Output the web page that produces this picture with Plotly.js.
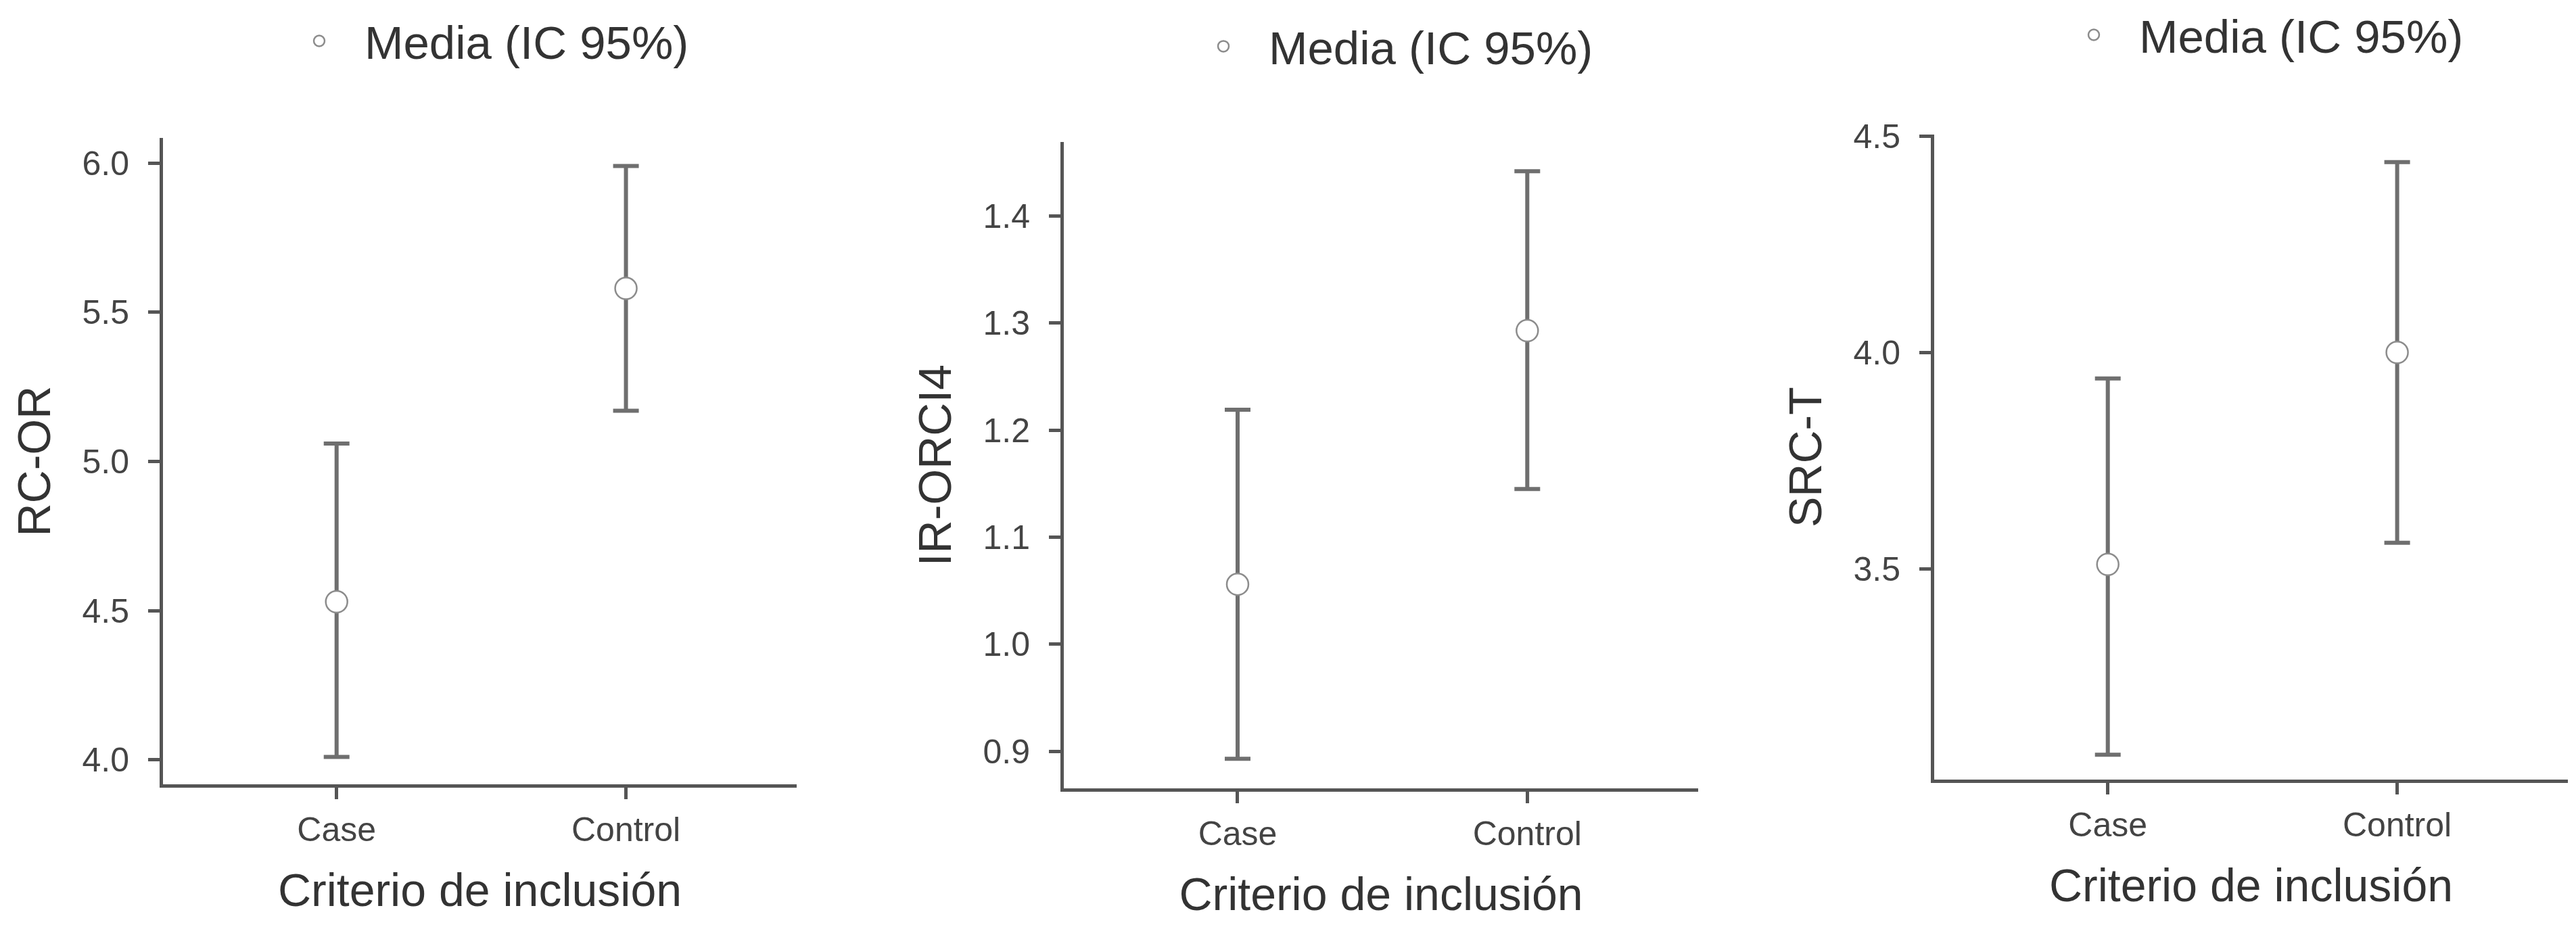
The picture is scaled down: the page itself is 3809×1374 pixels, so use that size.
<!DOCTYPE html>
<html>
<head>
<meta charset="utf-8">
<script src="https://cdn.plot.ly/plotly-3.0.1.min.js"></script>
<style>
  html, body { margin: 0; padding: 0; background: #fff; }
  #chart { width: 3809px; height: 1374px; }
</style>
</head>
<body>
<div id="chart"></div>
<script>
const groups = ['Case', 'Control'];

// RC-OR
const rcorMean = [4.53, 5.58];
const rcorLow = [4.01, 5.17];
const rcorHigh = [5.06, 5.99];

// IR-ORCI4
const irMean = [1.056, 1.293];
const irLow = [0.893, 1.145];
const irHigh = [1.219, 1.442];

// SRC-T
const srcMean = [3.51, 4.00];
const srcLow = [3.07, 3.56];
const srcHigh = [3.94, 4.44];

const rcorTicks = [4.0, 4.5, 5.0, 5.5, 6.0];
const irTicks = [0.9, 1.0, 1.1, 1.2, 1.3, 1.4];
const srcTicks = [3.5, 4.0, 4.5];

const W = 3809, H = 1374;
const axisColor = '#555555';
const barColor = '#6f6f6f';

function meanTrace(mean, low, high, xa, ya, legend) {
  return {
    type: 'scatter', mode: 'markers',
    x: groups, y: mean, xaxis: xa, yaxis: ya,
    name: 'Media (IC 95%)', legend: legend, showlegend: true,
    marker: { symbol: 'circle', size: 32, color: '#ffffff', line: { color: '#8c8c8c', width: 2.5 } },
    error_y: {
      type: 'data', symmetric: false,
      array: high.map((h, i) => h - mean[i]),
      arrayminus: mean.map((m, i) => m - low[i]),
      color: barColor, thickness: 6, width: 19
    },
    cliponaxis: false,
    hoverinfo: 'x+y'
  };
}

function xAxis(left, right, anchor) {
  return {
    domain: [left / W, right / W], anchor: anchor,
    type: 'category', range: [-0.6, 1.59],
    showline: true, linecolor: axisColor, linewidth: 5,
    ticks: 'outside', ticklen: 17, tickwidth: 5, tickcolor: axisColor,
    showgrid: false, zeroline: false, automargin: false,
    tickfont: { size: 50, color: '#444444' }, ticklabelstandoff: 2,
    title: { text: 'Criterio de inclusión', font: { size: 68, color: '#333333' }, standoff: 40 }
  };
}

function yAxis(top, bottom, anchor, range, ticks, title) {
  return {
    domain: [1 - bottom / H, 1 - top / H], anchor: anchor,
    range: range, tickvals: ticks, tickformat: '.1f',
    showline: true, linecolor: axisColor, linewidth: 5,
    ticks: 'outside', ticklen: 17, tickwidth: 5, tickcolor: axisColor,
    showgrid: false, zeroline: false, automargin: false,
    tickfont: { size: 50, color: '#444444' }, ticklabelstandoff: 18,
    title: { text: title, font: { size: 68, color: '#333333' }, standoff: 26 }
  };
}

function legendAt(px, py) {
  return {
    x: px / W, y: 1 - py / H, xanchor: 'left', yanchor: 'middle',
    font: { size: 69, color: '#333333' },
    itemwidth: 124, bgcolor: 'rgba(0,0,0,0)', borderwidth: 0
  };
}

const data = [
  meanTrace(rcorMean, rcorLow, rcorHigh, 'x', 'y', 'legend'),
  meanTrace(irMean, irLow, irHigh, 'x2', 'y2', 'legend2'),
  meanTrace(srcMean, srcLow, srcHigh, 'x3', 'y3', 'legend3')
];

const layout = {
  width: W, height: H,
  margin: { l: 0, r: 0, t: 0, b: 0 },
  paper_bgcolor: '#ffffff', plot_bgcolor: '#ffffff',
  font: { family: 'Liberation Sans, Arial, sans-serif', color: '#333333' },
  xaxis: xAxis(241, 1178, 'y'),
  yaxis: yAxis(195, 1158, 'x', [3.919, 6.083], rcorTicks, 'RC-OR'),
  xaxis2: xAxis(1573, 2511, 'y2'),
  yaxis2: yAxis(201, 1164, 'x2', [0.8655, 1.469], irTicks, 'IR-ORCI4'),
  xaxis3: xAxis(2860, 3797, 'y3'),
  yaxis3: yAxis(190, 1151, 'x3', [3.013, 4.503], srcTicks, 'SRC-T'),
  legend: legendAt(405, 50),
  legend2: legendAt(1742, 58),
  legend3: legendAt(3029, 41),
  showlegend: true
};

Plotly.newPlot('chart', data, layout, { displayModeBar: false, staticPlot: true });
</script>
</body>
</html>
